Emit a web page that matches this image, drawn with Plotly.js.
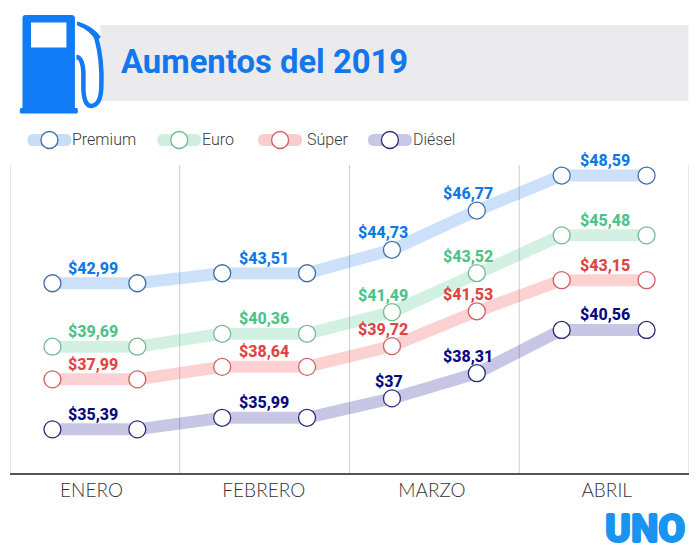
<!DOCTYPE html>
<html><head><meta charset="utf-8">
<script src="https://cdn.plot.ly/plotly-3.0.1.min.js"></script>
<style>html,body{margin:0;padding:0;background:#fff;overflow:hidden}#c{width:700px;height:560px}</style>
</head><body><div id="c"></div>
<script>
const months = ['ENERO','FEBRERO','MARZO','ABRIL'];
const monthTicks = [0.46, 2.49, 4.47, 6.53];
const monthEdges = [-0.5, 1.5, 3.5, 5.5, 7.5];
const seriesNames = ['Premium','Euro','Súper','Diésel'];
const premium = [42.99,42.99,43.51,43.51,44.73,46.77,48.59,48.59];
const euro    = [39.69,39.69,40.36,40.36,41.49,43.52,45.48,45.48];
const super_  = [37.99,37.99,38.64,38.64,39.72,41.53,43.15,43.15];
const diesel  = [35.39,35.39,35.99,35.99,37.00,38.31,40.56,40.56];
const pointIndex = [0,1,2,3,4,5,6,7];
const labelSource = [0,2,4,5,6];
const labelX = [0.48,2.49,3.9,4.9,6.51];
const dieselLabelX = [0.48,2.49,3.96,4.9,6.51];
const labelShift = [15,15,17,17,15];
const lineColors = ['rgba(40,125,235,0.24)','rgba(70,195,135,0.24)','rgba(240,85,85,0.27)','rgba(30,30,150,0.25)'];
const ringColors = ['#3f6fa8','#74b890','#cf5f5f','#2b2b78'];
const textColors = ['#0f7ae5','#4cc38a','#e04545','#0a0a80'];
const blue = '#0f7bf5';

const allSeries = [premium,euro,super_,diesel];
const L=9.5, B=473, W=680, H=308;
const px = x => (x-L)/W;
const py = y => (B-y)/H;
const P = (x,y) => px(x)+','+py(y);

const traces = allSeries.map((v,i)=>({
  x: pointIndex, y: v, type:'scatter', mode:'lines+markers', name:seriesNames[i],
  line:{color:lineColors[i], width:12},
  marker:{size:17, color:'#fff', line:{color:ringColors[i], width:1.3}},
  hoverinfo:'skip', showlegend:false, cliponaxis:false
}));

const fmt = v => '$'+(Number.isInteger(v)?String(v):v.toFixed(2).replace('.',','));
const annotations = [];
allSeries.forEach((v,i)=>{
  labelSource.forEach((idx,k)=>{
    annotations.push({x:(i===3?dieselLabelX:labelX)[k], y:v[idx], xref:'x', yref:'y', yshift:labelShift[k],
      text:fmt(v[idx]), showarrow:false, xanchor:'center', yanchor:'middle',
      font:{family:'Roboto',size:16,color:textColors[i],weight:800}});
  });
});
const paperText = (text,x,y,font,anchor)=>annotations.push({text,x:px(x),y:py(y),xref:'paper',yref:'paper',
  showarrow:false,xanchor:anchor||'left',yanchor:'middle',font,borderpad:0,borderwidth:0});
paperText('Aumentos del 2019',121,62,{family:'Roboto',size:32.8,color:'#1277ec',weight:700});
const legendTextX=[72,202,307,413], legendBar=[27,157,258,368];
seriesNames.forEach((n,i)=>paperText(n,legendTextX[i],140,{family:'Roboto',size:16,color:'#3a3a3a',weight:300}));
paperText('UNO',645,529,{family:'Roboto',size:39,color:'#1a94f0',weight:900,
  shadow:'1px 0 #1a94f0,-1px 0 #1a94f0,0 1px #1a94f0,0 -1px #1a94f0'},'center');

const shapes = [];
shapes.push({type:'rect',xref:'paper',yref:'paper',x0:px(100),x1:px(689),y0:py(25),y1:py(101),fillcolor:'#ebebed',line:{width:0},layer:'below'});
monthEdges.forEach(e=>shapes.push({type:'line',xref:'x',yref:'paper',x0:e,x1:e,y0:0,y1:1,line:{color:'#cfcfcf',width:1},layer:'below'}));
const path = d => ({type:'path',xref:'paper',yref:'paper',path:d,fillcolor:blue,line:{width:0},layer:'above'});
shapes.push(path(`M${P(22,108)} L${P(22,18)} Q${P(22,15)} ${P(25,15)} L${P(71,15)} Q${P(74.5,15)} ${P(74.5,18)} L${P(74.5,108)} L${P(77,108)} Q${P(78,110.5)} ${P(77,113.5)} L${P(20,113.5)} Q${P(18.5,110.5)} ${P(20,108)} Z`));
shapes.push({type:'rect',xref:'paper',yref:'paper',x0:px(30.5),x1:px(66),y0:py(22.5),y1:py(47.5),fillcolor:'#fff',line:{width:0}});
shapes.push({type:'path',xref:'paper',yref:'paper',fillcolor:'rgba(0,0,0,0)',line:{color:blue,width:4.5},
  path:`M${P(76,57)} Q${P(82,57)} ${P(83,72)} L${P(83,90)} Q${P(84,106)} ${P(91,106)} Q${P(101,105)} ${P(101,85)} Q${P(102,60)} ${P(96,38)}`});
shapes.push({type:'path',xref:'paper',yref:'paper',fillcolor:blue,line:{color:blue,width:1},
  path:`M${P(77,22)} Q${P(92,26)} ${P(100,37)} L${P(96,41)} Q${P(90,30)} ${P(77,25)} Z`});
const legendFills=['#c9ddf3','#d0eee0','#f8cdcd','#c8c8e6'];
legendBar.forEach((x,i)=>{
  const r=6,x1=x+44,t=134,b=146;
  shapes.push({type:'path',xref:'paper',yref:'paper',line:{width:0},fillcolor:legendFills[i],
   path:`M${P(x+r,t)} L${P(x1-r,t)} Q${P(x1,t)} ${P(x1,t+r)} Q${P(x1,b)} ${P(x1-r,b)} L${P(x+r,b)} Q${P(x,b)} ${P(x,t+r)} Q${P(x,t)} ${P(x+r,t)} Z`});
  const cx=x+22;
  shapes.push({type:'circle',xref:'paper',yref:'paper',x0:px(cx-8.5),x1:px(cx+8.5),y0:py(148.5),y1:py(131.5),fillcolor:'#fff',line:{color:ringColors[i],width:1.3}});
});

const layout = {
  width:700,height:560,paper_bgcolor:'#fff',plot_bgcolor:'#fff',
  margin:{l:L,r:700-L-W,t:B-H,b:560-B,pad:0},
  showlegend:false,
  xaxis:{range:[-0.5,7.5],tickvals:monthTicks,ticktext:months,ticks:'',showgrid:false,zeroline:false,
    showline:true,linecolor:'#555',linewidth:1.5,fixedrange:true,
    tickfont:{family:'Lato',size:19,color:'#333',weight:300},ticklabelstandoff:0},
  yaxis:{range:[33.12,49.14],visible:false,showgrid:false,zeroline:false,fixedrange:true},
  shapes,annotations
};
Plotly.newPlot('c',traces,layout,{displayModeBar:false,staticPlot:true});
</script></body></html>
